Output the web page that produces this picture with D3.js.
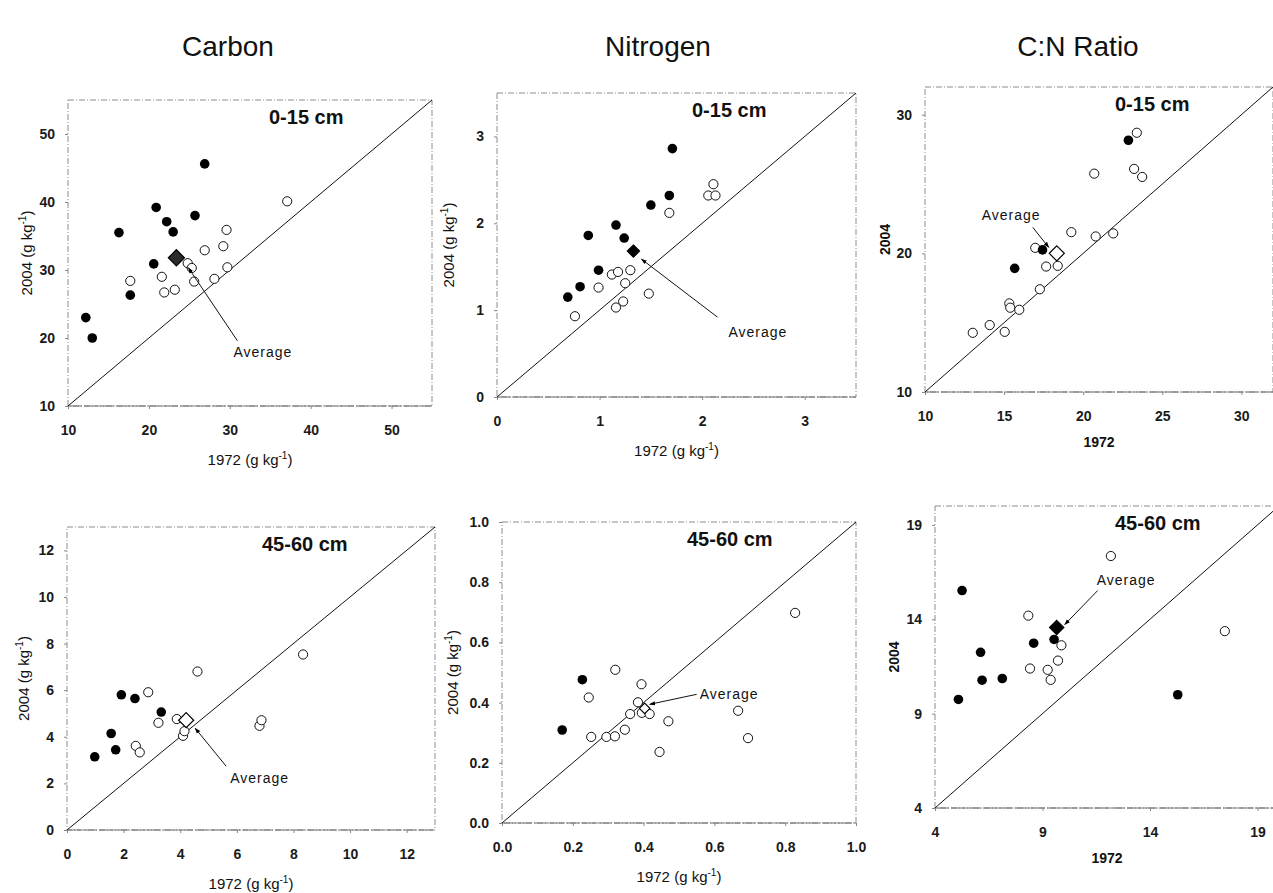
<!DOCTYPE html>
<html>
<head>
<meta charset="utf-8">
<script src="https://cdn.jsdelivr.net/npm/d3@7"></script>
<style>
  body { margin: 0; background: #fff; }
  svg { font-family: "Liberation Sans", Arial, sans-serif; }
  .tick text { font-size: 14px; font-weight: bold; fill: #1a1a1a; }
  .tick line { stroke: #888; }
</style>
</head>
<body>
<div id="chart"></div>
<script>
// ---- data (x = 1972, y = 2004) ----
const carbonTopFilled = [[12.2, 23], [13, 20], [16.3, 35.5], [17.7, 26.3], [20.6, 30.9], [20.9, 39.2], [22.2, 37.1], [23.0, 35.6], [25.7, 38.0], [26.9, 45.6]];
const carbonTopOpen = [[17.7, 28.4], [21.6, 29.0], [21.9, 26.7], [23.2, 27.1], [24.8, 31.0], [25.3, 30.3], [25.6, 28.3], [26.9, 32.9], [28.1, 28.7], [29.2, 33.5], [29.6, 35.9], [29.7, 30.4], [37.1, 40.1]];
const carbonTopAvg = [23.4, 31.8];

const nitrogenTopFilled = [[0.69, 1.15], [0.81, 1.27], [0.89, 1.86], [0.99, 1.46], [1.16, 1.98], [1.24, 1.83], [1.50, 2.21], [1.68, 2.32], [1.71, 2.86]];
const nitrogenTopOpen = [[0.76, 0.93], [0.99, 1.26], [1.12, 1.41], [1.18, 1.44], [1.16, 1.03], [1.23, 1.10], [1.25, 1.31], [1.30, 1.46], [1.48, 1.19], [1.68, 2.12], [2.06, 2.32], [2.11, 2.45], [2.13, 2.32]];
const nitrogenTopAvg = [1.33, 1.68];

const ratioTopFilled = [[15.67, 18.92], [17.43, 20.25], [22.86, 28.16]];
const ratioTopOpen = [[13.02, 14.27], [14.09, 14.83], [15.04, 14.34], [15.33, 16.39], [15.39, 16.08], [15.96, 15.93], [16.97, 20.40], [17.26, 17.41], [17.66, 19.05], [18.39, 19.10], [19.25, 21.53], [20.70, 25.75], [20.79, 21.22], [21.90, 21.44], [23.22, 26.09], [23.39, 28.70], [23.73, 25.51]];
const ratioTopAvg = [18.33, 20.0];

const carbonSubFilled = [[0.98, 3.14], [1.56, 4.14], [1.72, 3.44], [1.92, 5.8], [2.40, 5.64], [3.33, 5.06]];
const carbonSubOpen = [[2.43, 3.61], [2.57, 3.33], [2.87, 5.91], [3.23, 4.6], [3.88, 4.76], [4.10, 4.04], [4.15, 4.24], [4.61, 6.8], [6.80, 4.47], [6.87, 4.71], [8.34, 7.53]];
const carbonSubAvg = [4.21, 4.71];

const nitrogenSubFilled = [[0.170, 0.309], [0.227, 0.476]];
const nitrogenSubOpen = [[0.245, 0.417], [0.252, 0.286], [0.295, 0.286], [0.319, 0.288], [0.320, 0.509], [0.347, 0.310], [0.362, 0.362], [0.384, 0.401], [0.394, 0.461], [0.395, 0.366], [0.417, 0.362], [0.445, 0.236], [0.470, 0.338], [0.667, 0.373], [0.695, 0.282], [0.828, 0.698]];
const nitrogenSubAvg = [0.403, 0.381];

const ratioSubFilled = [[5.09, 9.75], [5.26, 15.52], [6.12, 12.25], [6.19, 10.77], [7.13, 10.86], [8.59, 12.73], [9.54, 12.93], [15.29, 10.0]];
const ratioSubOpen = [[8.34, 14.19], [8.42, 11.39], [9.24, 11.32], [9.38, 10.79], [9.72, 11.81], [9.88, 12.62], [12.18, 17.35], [17.48, 13.37]];
const ratioSubAvg = [9.66, 13.56];

const columnTitles = ['Carbon', 'Nitrogen', 'C:N Ratio'];
const depths = ['0-15 cm', '45-60 cm'];
const carbonTopTicks = [10, 20, 30, 40, 50];
const nitrogenTopTicks = [0, 1, 2, 3];
const ratioTopXTicks = [10, 15, 20, 25, 30];
const ratioTopYTicks = [10, 20, 30];
const carbonSubTicks = [0, 2, 4, 6, 8, 10, 12];
const nitrogenSubTicks = [0, 0.2, 0.4, 0.6, 0.8, 1.0];
const ratioSubTicks = [4, 9, 14, 19];

// ---- layout (pixel geometry of each panel) ----
const W = 1273, H = 893;
const panels = [
  {filled: carbonTopFilled, open: carbonTopOpen, avg: carbonTopAvg, dom: [10, 55], xr: [68, 432], yr: [406, 100],
   xt: carbonTopTicks, yt: carbonTopTicks, fmt: d3.format('d'), depth: depths[0], depthOff: 201, units: true, ylOff: 41,
   avgFill: '#2b2b2b', avgSize: 165, txt: [57, 99], l0: [61, 83], l1: [12, 10]},
  {filled: nitrogenTopFilled, open: nitrogenTopOpen, avg: nitrogenTopAvg, dom: [0, 3.5], xr: [497, 856], yr: [397, 93],
   xt: nitrogenTopTicks, yt: nitrogenTopTicks, fmt: d3.format('d'), depth: depths[0], depthOff: 195, units: true, ylOff: 48,
   avgFill: '#000', avgSize: 95, txt: [95, 86], l0: [84, 66], l1: [8, 8]},
  {filled: ratioTopFilled, open: ratioTopOpen, avg: ratioTopAvg, dom: [10, 32], xr: [925, 1273], yr: [392, 87],
   xt: ratioTopXTicks, yt: ratioTopYTicks, fmt: d3.format('d'), depth: depths[0], depthOff: 190, units: false, ylOff: 40,
   avgFill: '#fff', avgSize: 145, txt: [-75, -33], l0: [-24, -26], l1: [-8, -6]},
  {filled: carbonSubFilled, open: carbonSubOpen, avg: carbonSubAvg, dom: [0, 13], xr: [67, 435], yr: [830, 527],
   xt: carbonSubTicks, yt: carbonSubTicks, fmt: d3.format('d'), depth: depths[1], depthOff: 195, units: true, ylOff: 43,
   avgFill: '#fff', avgSize: 145, txt: [44, 63], l0: [40, 46], l1: [9, 8]},
  {filled: nitrogenSubFilled, open: nitrogenSubOpen, avg: nitrogenSubAvg, dom: [0, 1], xr: [502, 856], yr: [823, 522],
   xt: nitrogenSubTicks, yt: nitrogenSubTicks, fmt: d3.format('.1f'), depth: depths[1], depthOff: 185, units: true, ylOff: 49,
   avgFill: '#fff', avgSize: 70, txt: [55, -9], l0: [52, -14], l1: [5, -4]},
  {filled: ratioSubFilled, open: ratioSubOpen, avg: ratioSubAvg, dom: [4, 20], xr: [935, 1279], yr: [808, 506],
   xt: ratioSubTicks, yt: ratioSubTicks, fmt: d3.format('d'), depth: depths[1], depthOff: 180, units: false, ylOff: 41,
   avgFill: '#000', avgSize: 130, txt: [40, -43], l0: [41, -37], l1: [8, -3]}
];

const svg = d3.select('#chart').append('svg')
  .attr('width', W)
  .attr('height', H);

svg.append('defs').append('marker')
  .attr('id', 'arrow')
  .attr('viewBox', '0 0 10 10')
  .attr('refX', 9).attr('refY', 5)
  .attr('markerWidth', 6).attr('markerHeight', 6)
  .attr('orient', 'auto')
  .append('path').attr('d', 'M0,1.5L10,5L0,8.5Z').attr('fill', '#000');

// column titles
const titleX = [228, 658, 1078];
svg.selectAll('.col-title')
  .data(columnTitles).enter()
  .append('text')
  .attr('class', 'col-title')
  .attr('x', (d, i) => titleX[i])
  .attr('y', 56)
  .attr('text-anchor', 'middle')
  .attr('font-size', 28)
  .attr('fill', '#111')
  .text(d => d);

function axisTitle(sel, label, units) {
  sel.append('tspan').text(label + (units ? ' (g kg' : ''));
  if (units) {
    sel.append('tspan').attr('dy', -6).attr('font-size', 10).text('-1');
    sel.append('tspan').attr('dy', 6).text(')');
  }
}

panels.forEach(p => {
  const x = d3.scaleLinear().domain(p.dom).range(p.xr);
  const y = d3.scaleLinear().domain(p.dom).range(p.yr);
  const g = svg.append('g');
  const left = p.xr[0], right = p.xr[1], top = p.yr[1], bottom = p.yr[0];

  // frame (scanned look: gray dashed)
  g.append('rect')
    .attr('x', left).attr('y', top)
    .attr('width', right - left).attr('height', bottom - top)
    .attr('fill', 'none')
    .attr('stroke', '#8c8c8c')
    .attr('stroke-dasharray', '6,2,1,2');
  g.append('line')
    .attr('x1', left).attr('x2', right)
    .attr('y1', bottom).attr('y2', bottom)
    .attr('stroke', '#6e6e6e')
    .attr('stroke-dasharray', '14,2');

  // axes
  g.append('g')
    .attr('transform', 'translate(0,' + bottom + ')')
    .call(d3.axisBottom(x).tickValues(p.xt).tickFormat(p.fmt).tickSize(3).tickPadding(16))
    .call(a => a.select('.domain').remove());
  g.append('g')
    .attr('transform', 'translate(' + left + ',0)')
    .call(d3.axisLeft(y).tickValues(p.yt).tickFormat(p.fmt).tickSize(3).tickPadding(10))
    .call(a => a.select('.domain').remove());

  // 1:1 line
  g.append('line')
    .attr('x1', x(p.dom[0])).attr('y1', y(p.dom[0]))
    .attr('x2', x(p.dom[1])).attr('y2', y(p.dom[1]))
    .attr('stroke', '#111')
    .attr('stroke-width', 1);

  // points
  g.selectAll('.open')
    .data(p.open).enter()
    .append('circle')
    .attr('cx', d => x(d[0])).attr('cy', d => y(d[1]))
    .attr('r', 4.6)
    .attr('fill', '#fff').attr('stroke', '#111').attr('stroke-width', 1);
  g.selectAll('.filled')
    .data(p.filled).enter()
    .append('circle')
    .attr('cx', d => x(d[0])).attr('cy', d => y(d[1]))
    .attr('r', 4.8)
    .attr('fill', '#000');

  // average marker + annotation
  const ax = x(p.avg[0]), ay = y(p.avg[1]);
  g.append('path')
    .attr('d', d3.symbol().type(d3.symbolDiamond2).size(p.avgSize)())
    .attr('transform', 'translate(' + ax + ',' + ay + ')')
    .attr('fill', p.avgFill)
    .attr('stroke', '#000').attr('stroke-width', 1.2);
  g.append('line')
    .attr('x1', ax + p.l0[0]).attr('y1', ay + p.l0[1])
    .attr('x2', ax + p.l1[0]).attr('y2', ay + p.l1[1])
    .attr('stroke', '#111').attr('stroke-width', 1)
    .attr('marker-end', 'url(#arrow)');
  g.append('text')
    .attr('x', ax + p.txt[0]).attr('y', ay + p.txt[1])
    .attr('font-size', 14)
    .attr('letter-spacing', 1)
    .attr('fill', '#111')
    .text('Average');

  // depth label
  g.append('text')
    .attr('x', left + p.depthOff).attr('y', top + 24)
    .attr('font-size', 20).attr('font-weight', 'bold')
    .attr('fill', '#111')
    .text(p.depth);

  // axis titles
  g.append('text')
    .attr('x', (left + right) / 2)
    .attr('y', bottom + (p.units ? 59 : 55))
    .attr('text-anchor', 'middle')
    .attr('font-size', p.units ? 15 : 14)
    .attr('font-weight', p.units ? 'normal' : 'bold')
    .attr('fill', '#111')
    .call(s => axisTitle(s, '1972', p.units));
  g.append('text')
    .attr('transform', 'translate(' + (left - p.ylOff + 5) + ',' + ((top + bottom) / 2) + ') rotate(-90)')
    .attr('text-anchor', 'middle')
    .attr('font-size', p.units ? 15 : 14)
    .attr('font-weight', p.units ? 'normal' : 'bold')
    .attr('fill', '#111')
    .call(s => axisTitle(s, '2004', p.units));
});
</script>
</body>
</html>
